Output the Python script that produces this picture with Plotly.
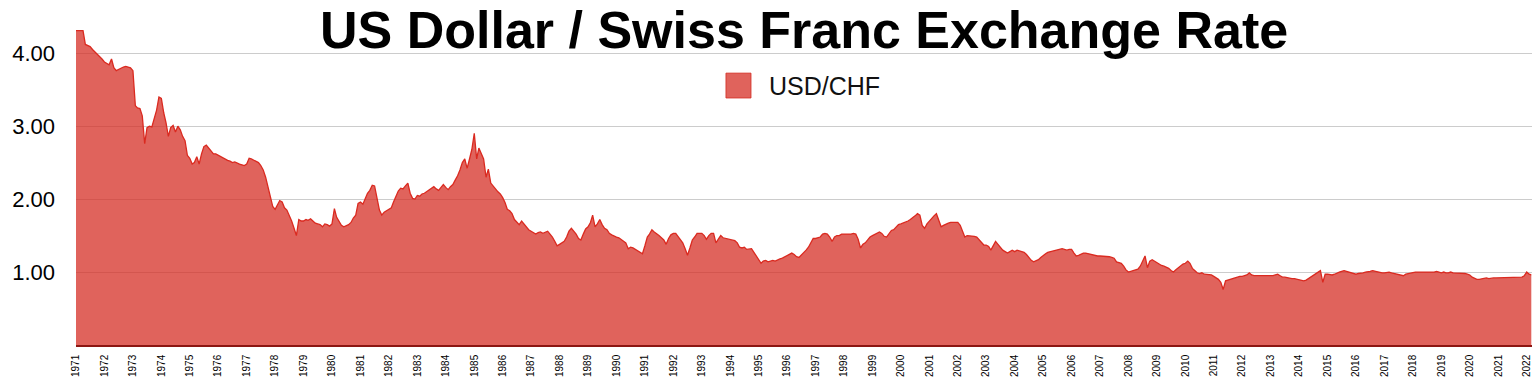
import pandas as pd
import plotly.graph_objects as go

# Monthly USD/CHF values, starting Jan 1971
start_month = "1971-01-01"

rate_1970s = [
    4.31, 4.31, 4.31, 4.31, 4.12, 4.10, 4.09, 4.05, 4.02, 3.99, 3.96, 3.92,  # 1971
    3.88, 3.86, 3.84, 3.92, 3.80, 3.76, 3.78, 3.80, 3.81, 3.82, 3.81, 3.80,  # 1972
    3.76, 3.28, 3.25, 3.24, 3.14, 2.76, 2.98, 3.00, 2.99, 3.10, 3.22, 3.40,  # 1973
    3.38, 3.18, 3.05, 2.86, 2.98, 3.01, 2.92, 3.00, 2.95, 2.86, 2.80, 2.60,  # 1974
    2.56, 2.48, 2.50, 2.58, 2.48, 2.62, 2.72, 2.74, 2.70, 2.65, 2.62, 2.62,  # 1975
    2.60, 2.58, 2.57, 2.55, 2.53, 2.52, 2.50, 2.51, 2.49, 2.48, 2.47, 2.46,  # 1976
    2.48, 2.56, 2.55, 2.53, 2.52, 2.50, 2.46, 2.40, 2.30, 2.16, 2.00, 1.90,  # 1977
    1.86, 1.92, 1.98, 1.96, 1.88, 1.85, 1.78, 1.70, 1.60, 1.50, 1.72, 1.70,  # 1978
    1.70, 1.72, 1.71, 1.73, 1.70, 1.67, 1.66, 1.65, 1.62, 1.66, 1.65, 1.63,  # 1979
]
rate_1980s = [
    1.66, 1.87, 1.75, 1.69, 1.64, 1.62, 1.63, 1.65, 1.68, 1.74, 1.78, 1.94,  # 1980
    1.96, 1.93, 2.00, 2.08, 2.12, 2.19, 2.18, 2.02, 1.85, 1.78, 1.82, 1.84,  # 1981
    1.86, 1.88, 1.96, 2.04, 2.11, 2.15, 2.14, 2.18, 2.22, 2.08, 2.01, 2.00,  # 1982
    2.05, 2.04, 2.07, 2.08, 2.10, 2.12, 2.15, 2.17, 2.14, 2.12, 2.16, 2.20,  # 1983
    2.16, 2.13, 2.17, 2.20, 2.26, 2.32, 2.40, 2.50, 2.55, 2.42, 2.55, 2.68,  # 1984
    2.90, 2.55, 2.70, 2.62, 2.55, 2.30, 2.41, 2.22, 2.18, 2.13, 2.10, 2.07,  # 1985
    2.02, 1.95, 1.86, 1.84, 1.80, 1.72, 1.69, 1.65, 1.70, 1.66, 1.62, 1.58,  # 1986
    1.56, 1.54, 1.52, 1.54, 1.55, 1.53, 1.55, 1.56, 1.52, 1.48, 1.42, 1.36,  # 1987
    1.38, 1.40, 1.42, 1.48, 1.56, 1.60, 1.56, 1.52, 1.46, 1.44, 1.52, 1.59,  # 1988
    1.62, 1.68, 1.78, 1.62, 1.66, 1.72, 1.65, 1.60, 1.58, 1.53, 1.51, 1.49,  # 1989
]
rate_1990s = [
    1.48, 1.47, 1.45, 1.43, 1.40, 1.32, 1.34, 1.33, 1.31, 1.30, 1.28, 1.25,  # 1990
    1.36, 1.48, 1.52, 1.58, 1.55, 1.53, 1.50, 1.47, 1.44, 1.38, 1.46, 1.51,  # 1991
    1.53, 1.53, 1.49, 1.45, 1.40, 1.32, 1.23, 1.33, 1.44, 1.48, 1.53, 1.53,  # 1992
    1.53, 1.50, 1.45, 1.50, 1.53, 1.53, 1.40, 1.45, 1.50, 1.47, 1.46, 1.45,  # 1993
    1.45, 1.44, 1.43, 1.40, 1.34, 1.33, 1.34, 1.31, 1.31, 1.32, 1.27, 1.22,  # 1994
    1.18, 1.12, 1.15, 1.16, 1.14, 1.15, 1.16, 1.15, 1.17, 1.18, 1.19, 1.21,  # 1995
    1.22, 1.25, 1.26, 1.24, 1.21, 1.20, 1.23, 1.26, 1.30, 1.34, 1.40, 1.46,  # 1996
    1.46, 1.47, 1.48, 1.52, 1.53, 1.52, 1.48, 1.42, 1.48, 1.50, 1.50, 1.52,  # 1997
    1.52, 1.51, 1.52, 1.52, 1.53, 1.52, 1.45, 1.33, 1.38, 1.40, 1.44, 1.48,  # 1998
    1.50, 1.52, 1.54, 1.55, 1.53, 1.49, 1.48, 1.52, 1.57, 1.58, 1.62, 1.65,  # 1999
]
rate_2000s = [
    1.66, 1.67, 1.68, 1.70, 1.72, 1.74, 1.77, 1.80, 1.78, 1.64, 1.60, 1.66,  # 2000
    1.70, 1.74, 1.77, 1.80, 1.72, 1.62, 1.64, 1.66, 1.67, 1.68, 1.68, 1.69,  # 2001
    1.68, 1.64, 1.56, 1.48, 1.50, 1.50, 1.49, 1.49, 1.48, 1.44, 1.40, 1.37,  # 2002
    1.37, 1.35, 1.30, 1.36, 1.42, 1.38, 1.34, 1.30, 1.28, 1.26, 1.28, 1.30,  # 2003
    1.28, 1.30, 1.29, 1.28, 1.27, 1.24, 1.20, 1.16, 1.14, 1.15, 1.17, 1.20,  # 2004
    1.22, 1.25, 1.27, 1.28, 1.29, 1.30, 1.31, 1.31, 1.32, 1.31, 1.30, 1.31,  # 2005
    1.31, 1.26, 1.22, 1.23, 1.25, 1.26, 1.26, 1.25, 1.24, 1.24, 1.23, 1.22,  # 2006
    1.22, 1.22, 1.22, 1.21, 1.21, 1.20, 1.19, 1.14, 1.13, 1.12, 1.08, 1.03,  # 2007
    1.00, 1.01, 1.02, 1.03, 1.04, 1.08, 1.14, 1.22, 1.06, 1.15, 1.17, 1.15,  # 2008
    1.12, 1.10, 1.09, 1.08, 1.07, 1.05, 1.02, 1.00, 1.03, 1.06, 1.08, 1.11,  # 2009
]
rate_2010s = [
    1.12, 1.15, 1.12, 1.05, 1.02, 0.99, 0.98, 0.99, 0.97, 0.97, 0.97, 0.96,  # 2010
    0.94, 0.92, 0.90, 0.86, 0.76, 0.88, 0.89, 0.91, 0.92, 0.93, 0.93, 0.94,  # 2011
    0.94, 0.95, 0.96, 0.99, 0.96, 0.95, 0.95, 0.94, 0.94, 0.95, 0.94, 0.94,  # 2012
    0.94, 0.95, 0.96, 0.97, 0.95, 0.93, 0.93, 0.92, 0.92, 0.91, 0.91, 0.90,  # 2013
    0.89, 0.88, 0.88, 0.89, 0.91, 0.93, 0.95, 0.97, 0.99, 1.02, 0.86, 0.97,  # 2014
    0.97, 0.96, 0.96, 0.97, 0.99, 1.00, 1.01, 1.02, 1.01, 1.00, 0.98, 0.97,  # 2015
    0.97, 0.98, 0.98, 0.99, 1.00, 1.00, 1.01, 1.02, 1.01, 1.00, 0.99, 0.99,  # 2016
    0.99, 1.00, 1.00, 0.99, 0.98, 0.97, 0.96, 0.96, 0.95, 0.97, 0.98, 0.99,  # 2017
    1.00, 1.00, 1.00, 1.00, 1.00, 0.99, 0.99, 1.00, 1.00, 1.00, 1.01, 1.00,  # 2018
    0.99, 1.00, 0.99, 0.99, 1.00, 0.99, 0.99, 0.98, 0.99, 0.98, 0.98, 0.97,  # 2019
]
rate_2020s = [
    0.96, 0.93, 0.91, 0.90, 0.90, 0.91, 0.92, 0.92, 0.91, 0.92, 0.92, 0.92,  # 2020
    0.92, 0.92, 0.93, 0.92, 0.92, 0.92, 0.93, 0.93, 0.93, 0.93, 0.93, 0.95,  # 2021
    1.00, 0.97, 0.96,                                                        # 2022
]

tick_years = list(range(1971, 2023))
y_tick_values = [1, 2, 3, 4]
y_tick_labels = ["1.00", "2.00", "3.00", "4.00"]
series_name = "USD/CHF"
chart_title = "US Dollar / Swiss Franc Exchange Rate"

rates = rate_1970s + rate_1980s + rate_1990s + rate_2000s + rate_2010s + rate_2020s
dates = pd.date_range(start=start_month, periods=len(rates), freq="MS")
tick_dates = [f"{y}-01-01" for y in tick_years]
tick_text = [str(y) for y in tick_years]

FONT = "Liberation Sans, Arial, Helvetica, sans-serif"

fig = go.Figure()
fig.add_trace(go.Scatter(
    x=dates, y=rates, mode="lines", name=series_name,
    line=dict(color="rgb(218,42,32)", width=1.3),
    fill="tozeroy", fillcolor="rgba(213,45,35,0.74)",
    showlegend=False,
))

# title as annotation anchored at the very top of the figure
fig.add_annotation(text=f"<b>{chart_title}</b>", xref="paper", yref="paper",
                   x=0.5, y=1.0748, xanchor="center", yanchor="top",
                   showarrow=False, borderpad=0,
                   font=dict(family=FONT, size=52, color="#000"))

# manual legend (square swatch + label)
fig.add_shape(type="rect", xref="paper", yref="paper",
              x0=0.4464, x1=0.4636, y0=0.7695, y1=0.847,
              fillcolor="rgba(213,45,35,0.74)", line=dict(color="rgba(213,45,35,0.8)", width=1))
fig.add_annotation(text=series_name, xref="paper", yref="paper",
                   x=0.4745, y=0.808, xanchor="left", yanchor="middle",
                   showarrow=False, font=dict(family=FONT, size=25, color="#111"))

fig.update_layout(
    width=1538, height=384,
    margin=dict(l=76, r=6, t=24, b=39),
    paper_bgcolor="white", plot_bgcolor="white",
    font=dict(family=FONT, color="#000"),
)
fig.update_xaxes(
    type="date", range=[dates[0], pd.Timestamp("2022-03-10")],
    tickmode="array", tickvals=tick_dates, ticktext=tick_text, tickangle=-90,
    tickfont=dict(size=10, color="#000"),
    showgrid=False, zeroline=False, automargin=False,
    showline=True, linecolor="rgb(140,22,18)", linewidth=1.5,
    ticks="", ticklabelstandoff=4,
)
fig.update_yaxes(
    range=[0, 4.4], tickvals=y_tick_values, ticktext=y_tick_labels,
    tickfont=dict(size=22, color="#000"), automargin=False,
    showgrid=True, gridcolor="#cccccc", gridwidth=1,
    zeroline=False, showline=False, ticks="", ticklabelstandoff=20,
)

fig.write_html("out.html", config={"displayModeBar": False},
               post_script="document.body.style.margin='0px';")
